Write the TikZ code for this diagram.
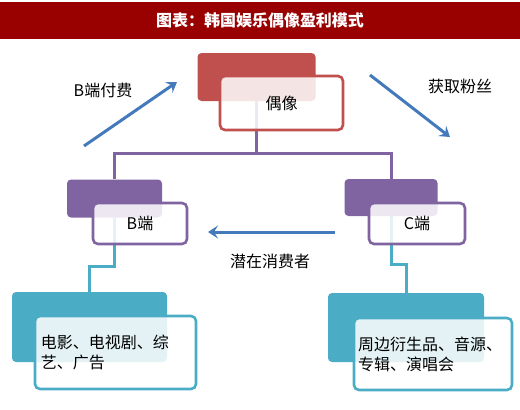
\documentclass[tikz,border=0pt]{standalone}
\usepackage{fontspec}
\newfontfamily\cjk{Noto Sans CJK SC}
\usetikzlibrary{positioning,arrows.meta,backgrounds}
\definecolor{titlecol}{HTML}{990000}
\definecolor{idolcol}{HTML}{C0504D}
\definecolor{sidecol}{HTML}{8064A2}
\definecolor{prodcol}{HTML}{4BACC6}
\definecolor{flowcol}{HTML}{4479BB}

\begin{document}
\begin{tikzpicture}[
   x=1pt,y=-1pt,
   font=\cjk\fontsize{16}{20}\selectfont,
   back/.style={fill=#1,rounded corners=4pt,inner sep=0pt},
   front/.style={draw=#1,line width=2.6pt,fill=white,fill opacity=0.85,
                 text opacity=1,rounded corners=5pt,inner sep=0pt},
   conn/.style={draw=#1,line width=3pt},
   flow/.style={draw=flowcol,line width=3pt,
                -{Stealth[length=10pt,width=13pt,inset=4pt]}},
]
\useasboundingbox (0,0) rectangle (520,410);

% title bar
\node[fill=titlecol,text=white,minimum width=520pt,minimum height=37pt,
      inner sep=0pt,font=\cjk\bfseries\fontsize{16}{18}\selectfont]
      (title) at (260,20.5) {图表：韩国娱乐偶像盈利模式};

% back boxes
\node[back=idolcol,minimum width=118pt,minimum height=48pt] (idolback) at (256.5,77) {};
\node[back=sidecol,minimum width=95pt,minimum height=38pt] (bback) at (114.5,198.5) {};
\node[back=sidecol,minimum width=93pt,minimum height=37pt] (cback) at (391,197.5) {};
\node[back=prodcol,minimum width=155pt,minimum height=70pt] (filmsback) at (89.5,327) {};
\node[back=prodcol,minimum width=156pt,minimum height=69pt] (goodsback) at (406,327.5) {};

% front boxes
\node[front=idolcol,minimum width=123pt,minimum height=54pt] (idol) at (281.5,103) {偶像};
\node[front=sidecol,minimum width=94pt,minimum height=41pt] (bside) at (140,223.5) {B端};
\node[front=sidecol,minimum width=96pt,minimum height=41pt] (cside) at (417,223.5) {C端};
\node[front=prodcol,minimum width=161pt,minimum height=73pt,text width=149pt,
      align=left] (films) at (115.5,352.5) {电影、电视剧、综\\艺、广告};
\node[front=prodcol,minimum width=158pt,minimum height=72pt,text width=150pt,
      align=left] (goods) at (433,354) {周边衍生品、音源、\\专辑、演唱会};

% connectors
\begin{scope}[on background layer]
\coordinate (hub) at (256.5,153);
\draw[conn=sidecol] (idolback.south) -- (hub);
\draw[conn=sidecol] (bback.north) |- (hub) -| (cback.north);
\draw[conn=prodcol] (bback.south) -- (bback.south |- 0,266) -| (filmsback.north);
\draw[conn=prodcol] (cback.south) -- (cback.south |- 0,264) -| (goodsback.north);
\end{scope}

% flow arrows
\coordinate (payfrom) at (84,146);
\coordinate (payto) at (177,82);
\draw[flow] (payfrom) -- (payto);
\node (paylabel) at (103,90) {B端付费};

\coordinate (fansfrom) at (370,75);
\coordinate (fansto) at (450,137);
\draw[flow] (fansfrom) -- (fansto);
\node (fanslabel) at (460,86) {获取粉丝};

\coordinate (potfrom) at (335,232);
\coordinate (potto) at (208,232);
\draw[flow] (potfrom) -- (potto);
\node (potlabel) at (270,261) {潜在消费者};

\end{tikzpicture}
\end{document}
